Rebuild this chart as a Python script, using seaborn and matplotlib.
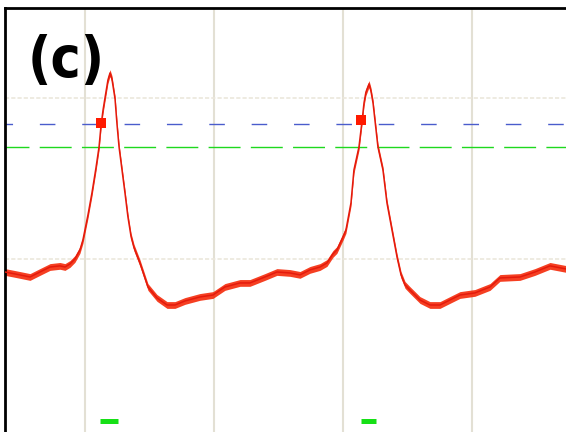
import numpy as np
import pandas as pd
import matplotlib
matplotlib.use("Agg")
import matplotlib.pyplot as plt
import seaborn as sns
from matplotlib import font_manager

# ---- data (time in grid divisions, amplitude in grid divisions) ----
time = [-0.620, -0.543, -0.426, -0.349, -0.271, -0.194, -0.155, -0.116, -0.078, -0.039,
        -0.016, 0.023, 0.054, 0.085, 0.109, 0.124, 0.140, 0.155, 0.178, 0.194,
        0.209, 0.233, 0.248, 0.264, 0.287, 0.310, 0.333, 0.357, 0.380, 0.426,
        0.488, 0.558, 0.636, 0.698, 0.775, 0.891, 0.992, 1.085, 1.202, 1.279,
        1.395, 1.488, 1.589, 1.667, 1.744, 1.822, 1.876, 1.922, 1.953, 2.000,
        2.023, 2.062, 2.085, 2.124, 2.147, 2.163, 2.178, 2.202, 2.217, 2.233,
        2.271, 2.310, 2.341, 2.380, 2.419, 2.450, 2.481, 2.519, 2.597, 2.674,
        2.752, 2.829, 2.907, 3.023, 3.140, 3.217, 3.372, 3.488, 3.605, 3.729]
signal = [-0.081, -0.093, -0.112, -0.081, -0.050, -0.043, -0.050, -0.031, 0.000, 0.056,
          0.118, 0.273, 0.410, 0.565, 0.696, 0.826, 0.925, 1.000, 1.112, 1.155,
          1.118, 0.994, 0.839, 0.696, 0.553, 0.410, 0.261, 0.140, 0.070, -0.025,
          -0.174, -0.242, -0.286, -0.286, -0.261, -0.236, -0.224, -0.174, -0.149, -0.149,
          -0.112, -0.081, -0.087, -0.099, -0.068, -0.050, -0.025, 0.031, 0.056, 0.137,
          0.180, 0.348, 0.553, 0.696, 0.851, 0.969, 1.037, 1.087, 1.043, 0.969,
          0.696, 0.553, 0.348, 0.180, 0.012, -0.099, -0.161, -0.193, -0.255, -0.286,
          -0.286, -0.255, -0.224, -0.211, -0.174, -0.118, -0.112, -0.081, -0.043, -0.062]

marker_t = [0.124, 2.143]
marker_y = [0.845, 0.863]

upper_threshold = 0.839   # blue dashed
lower_threshold = 0.696   # green dashed

bar_start = [0.116, 2.140]
bar_end = [0.256, 2.256]
bar_level = -1.006

x_grid = [0, 1, 2, 3]
y_grid = [0, 1]
x_limits = (-0.620, 3.729)
y_limits = (-1.075, 1.559)

panel_label = "(c)"

# ---- style ----
sns.set_style("white")
plt.rcParams['lines.scale_dashes'] = False

names = {f.name for f in font_manager.fontManager.ttflist}
if 'Liberation Sans Narrow' in names:
    label_family = ['Liberation Sans Narrow', 'DejaVu Sans']
    label_stretch = 'normal'
    label_size = 45
else:
    label_family = ['DejaVu Sans']
    label_stretch = 'condensed'
    label_size = 41
plt.rcParams['font.family'] = ['DejaVu Sans']

W, H = 566, 432
fig = plt.figure(figsize=(W / 100, H / 100), dpi=100)
fig.patch.set_facecolor("white")
ax = fig.add_axes([5 / W, 0, 561 / W, 424 / H])

df = pd.DataFrame({"t": time, "v": signal})

# grid
for gx in x_grid:
    ax.axvline(gx, color="#e3e0d4", lw=1.5, zorder=0)
for gy in y_grid:
    ax.axhline(gy, color="#ebe7dc", lw=1.2, ls=(0, (3, 1.5)), zorder=0)

# noisy band around the trace (vertical thickness)
t_arr = np.asarray(time)
s_arr = np.asarray(signal)
band = 0.021
ax.fill_between(t_arr, s_arr - band, s_arr + band, color="#f42a0a", lw=0, alpha=0.9, zorder=2)
sns.lineplot(data=df, x="t", y="v", ax=ax, color="#e41a0c", lw=1.1, zorder=3,
             estimator=None, sort=False)

# thresholds
ax.axhline(upper_threshold, color="#4a5ccc", lw=1.0, ls=(5.76, (11.2, 19.3)), zorder=1)
ax.axhline(lower_threshold, color="#1ed81e", lw=1.0, ls=(5.76, (23.0, 7.4)), zorder=1)

# red square markers
ax.plot(marker_t, marker_y, ls="none", marker="s", ms=7, color="#ff1a00",
        markeredgewidth=0, zorder=4)

# green bars
ax.hlines([bar_level] * len(bar_start), bar_start, bar_end, colors="#16e016",
          lw=3.6, capstyle="butt", zorder=4)

ax.set_xlim(*x_limits)
ax.set_ylim(*y_limits)
ax.set_xticks([])
ax.set_yticks([])
ax.set_xlabel("")
ax.set_ylabel("")
for side in ["right", "bottom"]:
    ax.spines[side].set_visible(False)
for side in ["left", "top"]:
    ax.spines[side].set_color("black")
    ax.spines[side].set_linewidth(2.0)

fig.text(28 / W, 1 - 77 / H, panel_label, fontsize=label_size, fontweight="bold",
         fontstretch=label_stretch, family=label_family,
         ha="left", va="baseline", color="black")

fig.savefig("out.png", dpi=100, facecolor="white")
